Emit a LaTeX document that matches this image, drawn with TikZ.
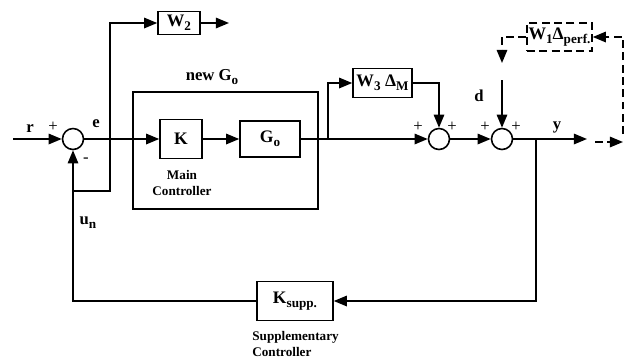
\documentclass[tikz,border=0pt]{standalone}
\usepackage{fontspec}
\setmainfont{Liberation Serif}
\usetikzlibrary{arrows.meta}
\newcommand{\lsub}[1]{\raisebox{-0.5ex}{\fontsize{7.5}{8}\selectfont #1}}
\tikzset{
  blk/.style  ={draw, line width=0.9pt, inner sep=0pt, font=\fontsize{10}{12}\selectfont\bfseries},
  dblk/.style ={blk, dash pattern=on 4.5pt off 2.5pt},
  sumc/.style ={draw, circle, line width=0.9pt, minimum size=0.42cm, inner sep=0pt},
  lab/.style  ={font=\fontsize{9.5}{11}\selectfont\bfseries, inner sep=1pt},
  labs/.style ={font=\fontsize{7.5}{9}\selectfont\bfseries, inner sep=0pt},
  sgn/.style  ={font=\fontsize{9.5}{11}\selectfont, inner sep=0pt},
  ln/.style   ={line width=0.9pt},
  ptr/.style  ={line width=0.9pt, -{Triangle[length=7.5pt,width=6pt]}},
  dptr/.style ={ptr, dash pattern=on 4.5pt off 2.5pt},
}

\begin{document}
\begin{tikzpicture}[x=0.02cm,y=-0.02cm]
  \useasboundingbox (0,0) rectangle (630,360);
  % summing junctions
  \node[sumc] (sumA) at (73,139) {};
  \node[sumc] (sumB) at (439,139) {};
  \node[sumc] (sumC) at (502,139) {};
  % blocks
  \node[draw, ln, minimum width=3.7cm, minimum height=2.34cm] (newgo) at (225.5,150.5) {};
  \node[blk, minimum width=0.84cm, minimum height=0.78cm] (kbox) at (181,139) {K};
  \node[blk, minimum width=1.2cm, minimum height=0.72cm] (gbox) at (270,139) {G\lsub{o}};
  \node[blk, minimum width=0.84cm, minimum height=0.46cm] (wtwo) at (179,23) {W\lsub{2}};
  \node[blk, minimum width=1.18cm, minimum height=0.58cm] (wthree) at (382.5,83) {W\lsub{3} Δ\lsub{M}};
  \node[dblk, minimum width=1.3cm, minimum height=0.56cm] (wone) at (559.5,37) {W\lsub{1}Δ\lsub{perf.}};
  \node[blk, minimum width=1.52cm, minimum height=0.78cm] (ksupp) at (295,301) {K\lsub{supp.}};
  % free ends and branch points
  \coordinate (rin) at (13,139);
  \coordinate (brE) at (110,139);
  \coordinate (brJ) at (110,191);
  \coordinate (jn) at (73,191);
  \coordinate (wout) at (229,23);
  \coordinate (brG) at (328,139);
  \coordinate (dtop) at (502,80);
  \coordinate (yout) at (587,139);
  \coordinate (brY) at (536,139);
  \coordinate (pin) at (595,142);
  \coordinate (ptip) at (623,142);
  \coordinate (pup) at (623,134);
  \coordinate (dtip) at (502,63);
  % connectors
  \draw[ptr] (rin) -- (sumA.west);
  \draw[ptr] (sumA.east) -- (kbox.west);
  \draw[ptr] (brE) |- (wtwo.west);
  \draw[ln] (brE) -- (brJ) -- (jn);
  \draw[ptr] (wtwo.east) -- (wout);
  \draw[ptr] (kbox.east) -- (gbox.west);
  \draw[ptr] (gbox.east) -- (sumB.west);
  \draw[ptr] (brG) |- (wthree.west);
  \draw[ptr] (wthree.east) -| (sumB.north);
  \draw[ptr] (sumB.east) -- (sumC.west);
  \draw[ptr] (dtop) -- (sumC.north);
  \draw[ptr] (sumC.east) -- (yout);
  \draw[ptr] (brY) |- (ksupp.east);
  \draw[ptr] (ksupp.west) -| (sumA.south);
  \draw[dptr] (pin) -- (ptip);
  \draw[dptr] (pup) |- (wone.east);
  \draw[dptr] (wone.west) -| (dtip);
  % labels
  \node[lab] (rlab) at (30,129) {r};
  \node[sgn] (pA) at (53,127) {+};
  \node[lab] (elab) at (96,124) {e};
  \node[sgn] (mA) at (86,160) {-};
  \node[lab] (newlab) at (212,77) {new G\lsub{o}};
  \node[labs, align=center] (mainlab) at (182,183) {Main\\Controller};
  \node[lab] (unlab) at (88,223) {u\lsub{n}};
  \node[sgn] (pB1) at (418,127) {+};
  \node[sgn] (pB2) at (452,127) {+};
  \node[sgn] (pC1) at (485,127) {+};
  \node[sgn] (pC2) at (516,127) {+};
  \node[lab] (dlab) at (479,96) {d};
  \node[lab] (ylab) at (557,127) {y};
  \node[labs, align=left, anchor=west] (supplab) at (252,344) {Supplementary\\Controller};
\end{tikzpicture}
\end{document}
